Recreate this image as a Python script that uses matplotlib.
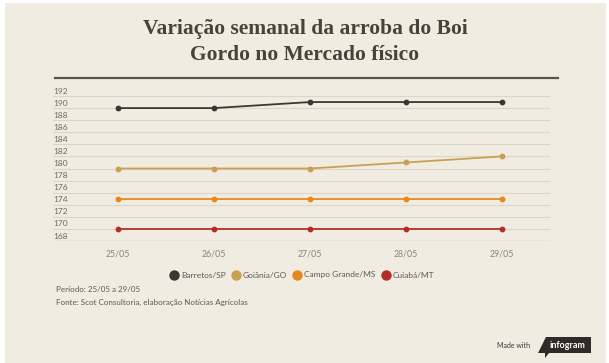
import matplotlib
matplotlib.use("Agg")
import matplotlib.pyplot as plt
from matplotlib.patches import Rectangle, Polygon
from matplotlib.lines import Line2D
import matplotlib.transforms as mtransforms

# ---- data ----
dates = ["25/05", "26/05", "27/05", "28/05", "29/05"]
barretos = [190, 190, 191, 191, 191]
goiania = [180, 180, 180, 181, 182]
campo_grande = [175, 175, 175, 175, 175]
cuiaba = [170, 170, 170, 170, 170]
series_names = ["Barretos/SP", "Goiânia/GO", "Campo Grande/MS", "Cuiabá/MT"]
series_values = [barretos, goiania, campo_grande, cuiaba]
series_colors = ["#3b3833", "#c9a052", "#e5891c", "#b03028"]
y_ticks = [168, 170, 172, 174, 176, 178, 180, 182, 184, 186, 188, 190, 192]
title_lines = "Variação semanal da arroba do Boi\nGordo no Mercado físico"
period_text = "Período: 25/05 a 29/05"
source_text = "Fonte: Scot Consultoria, elaboração Notícias Agrícolas"

W, H = 609, 363
BG = "#f1ece2"
fig = plt.figure(figsize=(W / 100, H / 100), dpi=100, facecolor="white")

# background panel
fig.patches.append(Rectangle((5 / W, 0 / H), (W - 8) / W, (H - 3) / H,
                             transform=fig.transFigure, facecolor=BG,
                             edgecolor="none", zorder=-5))

# title
fig.text(305 / W, 1 - 42 / H, title_lines, ha="center", va="center",
         fontsize=15.5, fontweight="bold", family="Liberation Serif",
         color="#4a423a", linespacing=1.35)
fig.add_artist(Line2D([55 / W, 558 / W], [1 - 78 / H, 1 - 78 / H],
                      transform=fig.transFigure, color="#5a534a", lw=1.6))

# axes
ax = fig.add_axes([53 / W, 1 - 241 / H, 497 / W, 145 / H])
ax.set_facecolor("none")
ax.set_zorder(2)
x = list(range(len(dates)))
for name, vals, col in zip(series_names, series_values, series_colors):
    ax.plot(x, vals, color=col, lw=1.3, marker="o", markersize=4.2,
            markeredgewidth=0, label=name, zorder=3)

ax.set_xlim(-0.68, 4.5)
ax.set_ylim(168, 192)
ax.set_yticks(y_ticks)
ax.yaxis.grid(True, color="#dcd5c9", lw=0.8)
ax.set_axisbelow(True)
ax.tick_params(axis="y", length=0, labelleft=False)
for s in ax.spines.values():
    s.set_visible(False)
ax.axhline(168, color="#cfc8bb", lw=0.9, zorder=1)

trans = mtransforms.blended_transform_factory(ax.transAxes, ax.transData)
off = mtransforms.ScaledTranslation(0, 1.5 / 100, fig.dpi_scale_trans)
for t in y_ticks:
    ax.text(0.0, t, str(t), transform=trans + off, ha="left", va="bottom",
            fontsize=6, family="Lato", color="#6e6861")

ax.set_xticks(x)
ax.set_xticklabels(dates, fontsize=6.3, family="Lato", color="#8a847b")
ax.tick_params(axis="x", length=0, pad=6)

# legend
handles = [Line2D([], [], color=c, marker="o", markersize=7.5, lw=0,
                  markeredgewidth=0) for c in series_colors]
leg = fig.legend(handles, series_names, loc="center",
                 bbox_to_anchor=(302 / W, 1 - 275 / H), ncol=4, frameon=False,
                 prop={"family": "Lato", "size": 6}, handletextpad=0.35,
                 columnspacing=0.7, handlelength=1.0)
for t in leg.get_texts():
    t.set_color("#5e5851")

# footer
fig.text(56 / W, 1 - 290 / H, period_text, ha="left", va="center",
         fontsize=5.8, family="Lato", color="#5e5851")
fig.text(56 / W, 1 - 302 / H, source_text, ha="left", va="center",
         fontsize=5.8, family="Lato", color="#5e5851")

# made with infogram badge
fig.text(530 / W, 1 - 345 / H, "Made with", ha="right", va="center",
         fontsize=5, family="Lato", color="#3a3632")
badge = Polygon([(538 / W, 1 - 353 / H), (546 / W, 1 - 337 / H),
                 (591 / W, 1 - 337 / H), (591 / W, 1 - 353 / H),
                 (549 / W, 1 - 353 / H), (545 / W, 1 - 358 / H),
                 (545 / W, 1 - 353 / H)],
                closed=True, transform=fig.transFigure,
                facecolor="#2e2b28", edgecolor="none")
fig.patches.append(badge)
fig.text(568 / W, 1 - 345 / H, "infogram", ha="center", va="center",
         fontsize=6.5, family="Lato", fontweight="bold", color="white")

fig.savefig("out.png", dpi=100, facecolor="white")
